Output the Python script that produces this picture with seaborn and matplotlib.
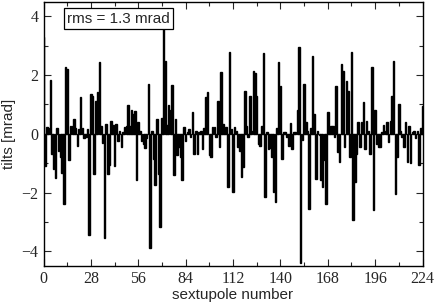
import numpy as np
import pandas as pd
import matplotlib
matplotlib.use("Agg")
import matplotlib.pyplot as plt
import seaborn as sns

sextupole = list(range(225))
tilts = [
    3.3, -1.1, 0.22, 0.2, 1.83, -0.7, -1.2, -1.5, 0.2, -0.6,
    -0.8, -1.35, -2.38, 2.28, 2.2, -0.9, 0.28, 0.25, 0.5, 0.2,
    -0.4, 0.15, 1.25, 0.2, -0.15, -0.12, 0.17, -3.45, 1.36, 1.3,
    -1.36, 1.13, 1.41, 2.43, 0.25, -0.3, -3.55, 0.34, -1.36, -1.08,
    0.45, 0.3, -1.1, 0.34, -0.23, 0.1, -0.45, 0.05, 0.22, 0.28,
    0.97, 0.28, 0.8, 0.68, 0.76, -1.58, 0.4, 0.1, -0.23, -0.34,
    -0.5, -0.15, 1.7, -3.9, 0.1, -0.85, -1.76, 0.5, -1.36, -3.17,
    0.55, 3.56, 2.49, 0.3, 0.97, 0.8, 1.65, -1.4, 0.5, -0.74,
    -0.45, -0.8, -1.58, 0.22, -0.23, 0.05, 0.17, -0.1, 0.74, -0.68,
    0.1, -0.68, 0.05, 0.11, -0.51, 0.2, 1.24, 1.41, -0.74, -0.8,
    0.22, 0.22, -0.1, 1.13, -0.45, 2.09, 0.34, 0.1, 0.22, -1.81,
    2.77, 0.15, -1.98, 0.22, 0.1, -0.45, -0.57, -1.47, -1.13, 1.47,
    0.28, -0.11, 1.3, 0.1, 2.15, 2.06, 1.3, -0.34, -0.4, 0.28,
    2.74, -2.15, 0.05, -0.51, -0.5, -0.8, -1.98, -2.32, 0.2, 2.43,
    1.64, -0.85, 0.06, 0.06, -0.11, -0.4, 0.36, -0.51, 0.06, 0.06,
    0.8, 2.94, -4.41, -0.2, 1.68, 0.4, 0.1, -2.55, 0.2, 2.65,
    0.68, -1.53, 0.1, -0.05, -1.58, -1.81, -0.9, -2.38, 0.74, 0.1,
    0.28, 0.28, -0.1, 1.64, -0.62, -0.96, 2.38, 2.15, -0.45, 1.81,
    1.47, -0.8, 2.77, -2.94, -1.64, -0.68, 0.4, -0.45, 0.4, 1.07,
    -0.51, 0.45, 0.1, -0.68, 2.26, -2.6, 0.8, -0.34, -0.45, -0.45,
    0.05, 0.3, 0.1, 0.4, -0.28, 0.45, 1.3, 2.47, -2.04, -0.8,
    1.0, 0.11, -0.11, -0.45, 0.4, -0.96, 0.28, -1.0, 0.06, 0.1,
    -0.15, 0.1, -1.07, 0.2, 0.93,
]
rms_text = "rms = 1.3 mrad"

df = pd.DataFrame({"sextupole": sextupole, "tilt": tilts})

sns.set_style("ticks")
plt.rcParams["font.family"] = ["Liberation Sans", "DejaVu Sans"]

fig = plt.figure(figsize=(4.36, 3.08), dpi=100)
ax = fig.add_axes([43.5 / 436, 1 - 266 / 308, 379 / 436, 264.5 / 308])

sns.barplot(data=df, x="sextupole", y="tilt", native_scale=True, color="black",
            saturation=1, width=0.9, linewidth=1.0, edgecolor="black", ax=ax)

ax.set_xlim(0, 224)
ax.set_ylim(-4.5, 4.5)
ax.set_xticks(np.arange(0, 225, 28))
ax.set_xticks(np.arange(14, 224, 28), minor=True)
ax.set_yticks([-4, -2, 0, 2, 4])
ax.set_yticks([-3, -1, 1, 3], minor=True)
ax.tick_params(which="both", direction="in", top=True, right=True, width=0.8)
ax.tick_params(which="major", length=5)
ax.tick_params(which="minor", length=3)
for lab in ax.get_xticklabels() + ax.get_yticklabels():
    lab.set_fontfamily("Liberation Serif")
    lab.set_fontsize(11.5)
for s in ax.spines.values():
    s.set_linewidth(1.0)
    s.set_color("black")

ax.set_xlabel("sextupole number", fontsize=11, labelpad=1)
ax.set_ylabel("tilts [mrad]", fontsize=11, labelpad=4)

ax.text(0.062, 0.962, rms_text, transform=ax.transAxes, fontsize=11,
        va="top", ha="left",
        bbox=dict(boxstyle="square,pad=0.22", fc="white", ec="black", lw=0.9))

fig.savefig("out.png", dpi=100)
